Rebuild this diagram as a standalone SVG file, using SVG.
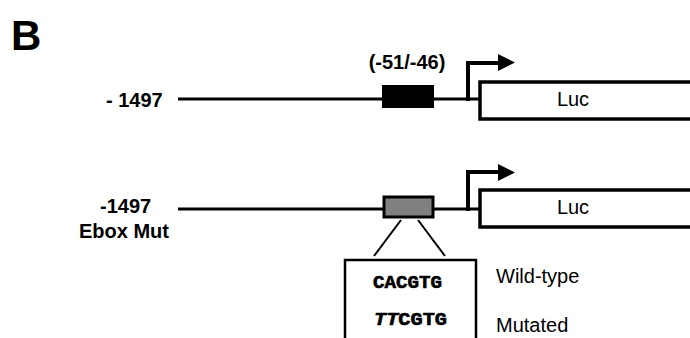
<svg xmlns="http://www.w3.org/2000/svg" width="690" height="338" viewBox="0 0 690 338">
<style>
.b{font-family:"Liberation Sans",Arial,sans-serif;font-weight:bold;fill:#000}
.r{font-family:"Liberation Sans",Arial,sans-serif;fill:#000}
.m{font-family:"Liberation Mono","Courier New",monospace;font-weight:bold;fill:#000;stroke:#000;stroke-width:0.6}
.ln{stroke:#000;stroke-width:3;fill:none}
.box{stroke:#000;stroke-width:3.5;fill:#fff}
</style>
<rect width="690" height="338" fill="#fff"/>
<text class="b" x="11" y="50" font-size="42">B</text>
<g id="connectors">
<line class="ln" x1="178" y1="99" x2="480" y2="99"/>
<line class="ln" x1="178" y1="209" x2="480" y2="209"/>
<polyline points="468,101 468,63 500,63" stroke="#000" stroke-width="4" fill="none"/>
<polygon points="498,54 515,62.5 498,71" fill="#000"/>
<polyline points="468,211 468,172 500,172" stroke="#000" stroke-width="4" fill="none"/>
<polygon points="498,164 515,172.5 498,181" fill="#000"/>
<line x1="401" y1="220" x2="374" y2="256" stroke="#000" stroke-width="2"/>
<line x1="418" y1="220" x2="445" y2="256" stroke="#000" stroke-width="2"/>
</g>
<g id="construct1">
<text class="b" x="106" y="107" font-size="20">- 1497</text>
<rect x="383" y="86" width="50" height="21" fill="#000" stroke="#000" stroke-width="2"/>
<text class="b" x="407" y="69" font-size="20" text-anchor="middle">(-51/-46)</text>
</g>
<g id="luc1">
<rect class="box" x="480" y="82" width="240" height="37"/>
<text class="r" x="573" y="106" font-size="20" text-anchor="middle">Luc</text>
</g>
<g id="construct2">
<text class="b" x="100" y="213" font-size="20">-1497</text>
<text class="b" x="79" y="238" font-size="20">Ebox Mut</text>
<rect x="384" y="197" width="49" height="20" fill="#808080" stroke="#000" stroke-width="3"/>
</g>
<g id="luc2">
<rect class="box" x="480" y="190" width="240" height="37"/>
<text class="r" x="573" y="214" font-size="20" text-anchor="middle">Luc</text>
</g>
<g id="sequence">
<rect x="345" y="260" width="131" height="100" fill="#fff" stroke="#000" stroke-width="2.5"/>
<text class="m" x="373" y="288" font-size="18" textLength="69" lengthAdjust="spacingAndGlyphs">CACGTG</text>
<text class="m" x="374" y="325" font-size="18" textLength="73" lengthAdjust="spacingAndGlyphs"><tspan font-style="italic">TT</tspan>CGTG</text>
<text class="r" x="496" y="283" font-size="20">Wild-type</text>
<text class="r" x="496" y="332" font-size="20">Mutated</text>
</g>
</svg>
